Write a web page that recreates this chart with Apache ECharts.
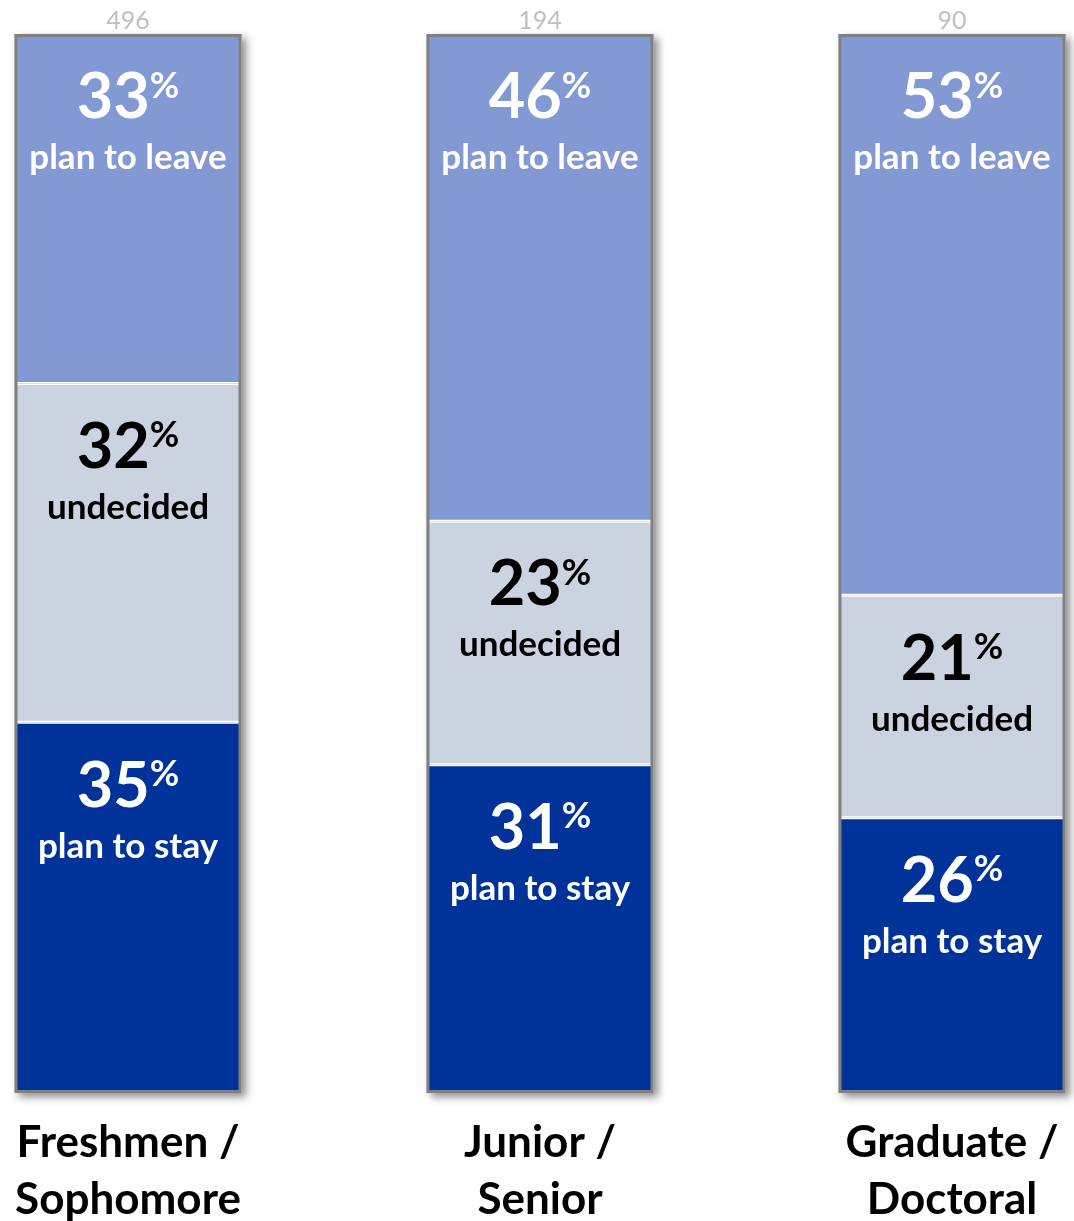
<!DOCTYPE html>
<html>
<head>
<meta charset="utf-8">
<script src="https://cdn.jsdelivr.net/npm/echarts@6/dist/echarts.min.js"></script>
<style>
  html, body { margin: 0; padding: 0; background: #ffffff; }
  #chart { width: 1074px; height: 1221px; }
</style>
</head>
<body>
<div id="chart"></div>
<script>
// Student groups and how many answered in each
const categories = ['Freshmen /\nSophomore', 'Junior /\nSenior', 'Graduate /\nDoctoral'];
const respondents = [496, 194, 90];

// Share of each group, in percent (stacked bottom to top)
const planToStay = [35, 31, 26];
const undecided = [32, 23, 21];
const planToLeave = [33, 46, 53];

const FONT = 'Lato, "Open Sans", sans-serif';
const BAR_W = 227;
const EDGE = '#808080';

function segmentLabel(caption, color) {
  return {
    show: true,
    position: 'insideTop',
    distance: 33,
    fontFamily: FONT,
    color: color,
    formatter: p => '{n|' + p.value + '}{p|%}\n{t|' + caption + '}',
    rich: {
      n: { fontFamily: FONT, fontSize: 63, fontWeight: 'bold', color: color, lineHeight: 62 },
      p: { fontFamily: FONT, fontSize: 36, fontWeight: 'bold', color: color, lineHeight: 62, padding: [0, 0, 24, 0] },
      t: { fontFamily: FONT, fontSize: 35, fontWeight: 'bold', color: color, lineHeight: 58 }
    }
  };
}

function segment(name, data, fill, textColor, caption) {
  return {
    name: name,
    type: 'bar',
    stack: 'share',
    barWidth: BAR_W,
    barGap: '-100%',
    z: 3,
    data: data,
    itemStyle: { color: fill, borderColor: '#ffffff', borderWidth: 1.5 },
    label: segmentLabel(caption, textColor)
  };
}

const totals = categories.map((_, i) => planToStay[i] + undecided[i] + planToLeave[i]);

const chart = echarts.init(document.getElementById('chart'), null, { renderer: 'canvas' });
chart.setOption({
  animation: false,
  backgroundColor: '#ffffff',
  grid: { left: -78, width: 1236, top: 34, bottom: 128, outerBoundsMode: 'none', containLabel: false },
  xAxis: {
    type: 'category',
    data: categories,
    axisLine: { show: false },
    axisTick: { show: false },
    axisLabel: {
      margin: 21,
      fontFamily: FONT,
      fontSize: 44,
      fontWeight: 'bold',
      color: '#000000',
      lineHeight: 57
    }
  },
  yAxis: {
    type: 'value',
    min: 0,
    max: 100,
    show: false,
    splitLine: { show: false }
  },
  series: [
    {
      // shadowed frame behind each bar, carrying the respondent count
      name: 'frame',
      type: 'bar',
      barWidth: BAR_W,
      barGap: '-100%',
      z: 1,
      data: totals,
      silent: true,
      itemStyle: {
        color: EDGE,
        shadowColor: 'rgba(0,0,0,0.45)',
        shadowBlur: 8,
        shadowOffsetX: 4,
        shadowOffsetY: 4
      },
      label: {
        show: true,
        position: 'top',
        distance: 1,
        fontFamily: FONT,
        fontSize: 25,
        color: '#bfbfbf',
        formatter: p => String(respondents[p.dataIndex])
      }
    },
    segment('plan to stay', planToStay, '#00339a', '#ffffff', 'plan to stay'),
    segment('undecided', undecided, '#cbd2e0', '#000000', 'undecided'),
    segment('plan to leave', planToLeave, '#8299d4', '#ffffff', 'plan to leave'),
    {
      // grey outline drawn over the stacked segments
      name: 'outline',
      type: 'bar',
      barWidth: BAR_W,
      barGap: '-100%',
      z: 5,
      data: totals,
      silent: true,
      itemStyle: { color: 'rgba(0,0,0,0)', borderColor: EDGE, borderWidth: 3 }
    }
  ]
});
</script>
</body>
</html>
